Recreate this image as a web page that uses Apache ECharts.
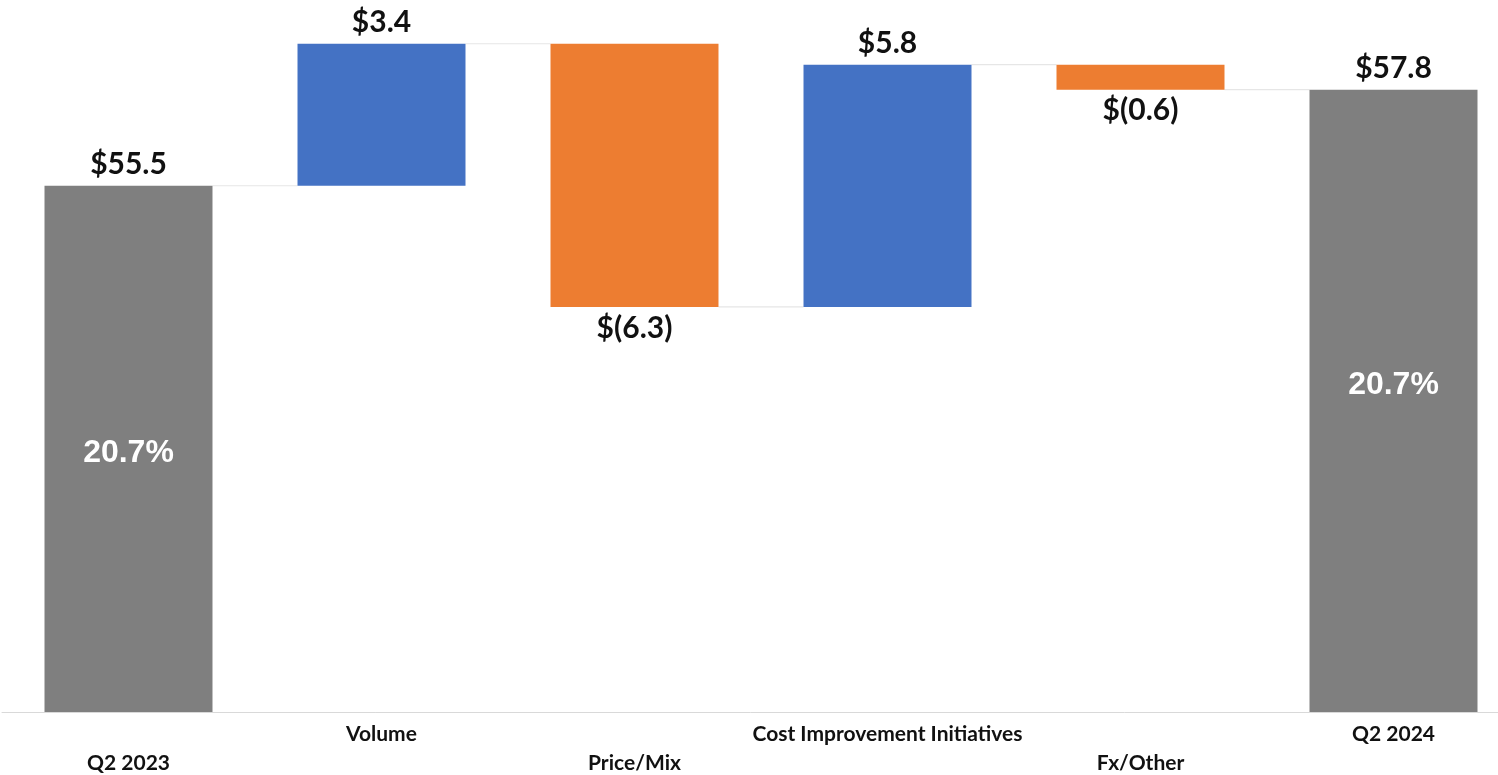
<!DOCTYPE html>
<html>
<head>
<meta charset="utf-8">
<style>
  html, body { margin: 0; padding: 0; background: #ffffff; }
  #chart { width: 1498px; height: 775px; }
</style>
<script src="https://cdn.jsdelivr.net/npm/echarts@6/dist/echarts.min.js"></script>
</head>
<body>
<div id="chart"></div>
<script>
// ---- Data ----
const categories = ['Q2 2023', 'Volume', 'Price/Mix', 'Cost Improvement Initiatives', 'Fx/Other', 'Q2 2024'];
const changes = [55.5, 3.4, -6.3, 5.8, -0.6, 57.8];
const isTotal = [true, false, false, false, false, true];
const valueLabels = ['$55.5', '$3.4', '$(6.3)', '$5.8', '$(0.6)', '$57.8'];
const marginLabels = ['20.7%', '', '', '', '', '20.7%'];

// ---- Derived waterfall pieces ----
const bases = [], heights = [], levels = [];
let running = 0;
changes.forEach((v, i) => {
  if (isTotal[i]) { bases.push(0); heights.push(v); running = v; }
  else if (v >= 0) { bases.push(running); heights.push(v); running += v; }
  else { bases.push(running + v); heights.push(-v); running += v; }
  levels.push(running);
});

const COLORS = { total: '#7f7f7f', up: '#4472c4', down: '#ed7d31' };
const BAR_RATIO = 0.664;
const AXIS_MIN = 42.9, AXIS_MAX = 59.9;

const chart = echarts.init(document.getElementById('chart'), null, { renderer: 'canvas' });

const visibleData = heights.map((h, i) => ({
  value: h,
  itemStyle: { color: isTotal[i] ? COLORS.total : (changes[i] >= 0 ? COLORS.up : COLORS.down) },
  label: { position: (!isTotal[i] && changes[i] < 0) ? 'bottom' : 'top' }
}));

const connectorData = [];
for (let i = 0; i < categories.length - 1; i++) connectorData.push([i, levels[i]]);

const pctData = [];
marginLabels.forEach((t, i) => { if (t) pctData.push([i, changes[i]]); });
const pctDy = [4, -16];

const option = {
  animation: false,
  grid: { left: 2, width: 1518, top: 2, bottom: 63, containLabel: false, outerBoundsMode: 'none' },
  xAxis: {
    type: 'category',
    data: categories,
    axisLine: { show: true, lineStyle: { color: '#d9d9d9', width: 1 } },
    axisTick: { show: false },
    axisLabel: {
      interval: 0,
      hideOverlap: false,
      margin: 8,
      fontFamily: 'Lato',
      fontWeight: 'bold',
      fontSize: 21,
      color: '#111111',
      lineHeight: 29,
      formatter: (v, i) => (i % 2 === 0 ? '\n' + v : v)
    }
  },
  yAxis: {
    type: 'value',
    min: AXIS_MIN,
    max: AXIS_MAX,
    show: false,
    splitLine: { show: false }
  },
  series: [
    {
      type: 'custom',
      name: 'connectors',
      z: 1,
      silent: true,
      data: connectorData,
      renderItem: (params, api) => {
        const i = api.value(0);
        const lvl = api.value(1);
        const bw = api.size([1, 0])[0] * BAR_RATIO;
        const p1 = api.coord([i, lvl]);
        const p2 = api.coord([i + 1, lvl]);
        return {
          type: 'line',
          shape: { x1: p1[0] + bw / 2, y1: p1[1], x2: p2[0] - bw / 2, y2: p2[1] },
          style: { stroke: '#e6e6e6', lineWidth: 1.2 }
        };
      }
    },
    {
      type: 'bar',
      name: 'base',
      stack: 'wf',
      barWidth: (BAR_RATIO * 100) + '%',
      silent: true,
      itemStyle: { color: 'transparent' },
      data: bases
    },
    {
      type: 'bar',
      name: 'value',
      stack: 'wf',
      barWidth: (BAR_RATIO * 100) + '%',
      z: 3,
      data: visibleData,
      label: {
        show: true,
        distance: 6,
        fontFamily: 'Lato',
        fontWeight: 'bold',
        fontSize: 30,
        color: '#111111',
        formatter: (p) => valueLabels[p.dataIndex]
      }
    },
    {
      type: 'custom',
      name: 'margin',
      z: 5,
      silent: true,
      data: pctData,
      renderItem: (params, api) => {
        const i = api.value(0);
        const v = api.value(1);
        const top = api.coord([i, v]);
        const bottom = api.coord([i, AXIS_MIN]);
        const idx = params.dataIndex;
        return {
          type: 'text',
          x: top[0],
          y: (top[1] + bottom[1]) / 2 + pctDy[idx],
          style: {
            text: marginLabels[i],
            fill: '#ffffff',
            font: 'bold 32px "Liberation Sans", Arial, sans-serif',
            textAlign: 'center',
            textVerticalAlign: 'middle'
          }
        };
      }
    }
  ]
};

chart.setOption(option);
</script>
</body>
</html>
